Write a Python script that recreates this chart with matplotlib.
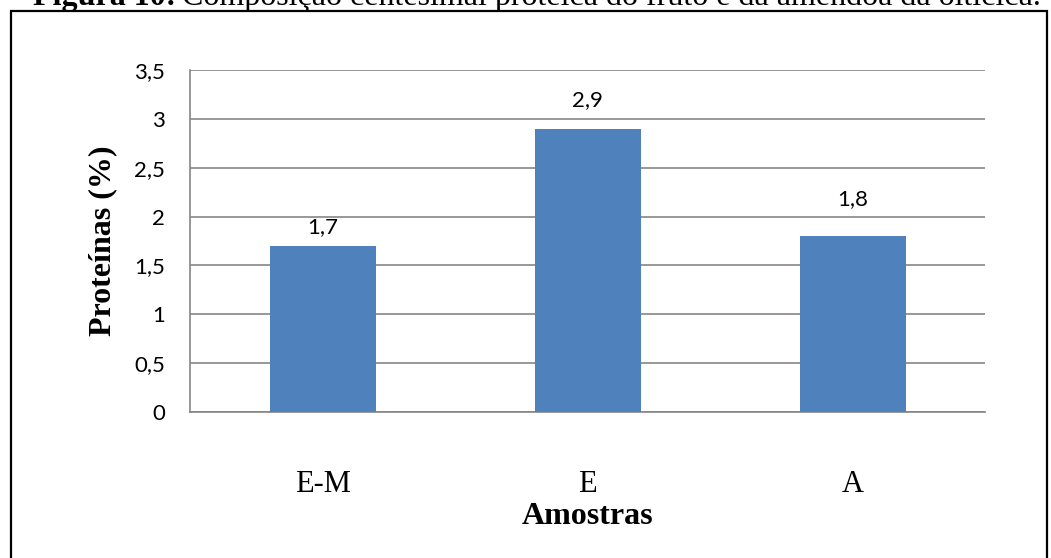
import matplotlib.pyplot as plt
from matplotlib.patches import Rectangle

# amostras e teor de proteínas (%)
amostras = ["E-M", "E", "A"]
proteinas = [1.7, 2.9, 1.8]
yticks = [0, 0.5, 1, 1.5, 2, 2.5, 3, 3.5]

# distância (pt) entre o topo da barra e o rótulo de valor
label_gap = [9.5, 16.5, 22.5]

bar_color = "#4F81BD"
grid_color = "#868686"

fig = plt.figure(figsize=(10.51, 5.58), dpi=100)
W, H = 1051, 558

# eixo em pixels: x 190..985, y 70..412
ax = fig.add_axes([190 / W, 1 - 412 / H, 795 / W, 342 / H])

x = range(len(amostras))
ax.bar(x, proteinas, width=0.4, color=bar_color, zorder=3)
ax.set_xlim(-0.5, len(amostras) - 0.5)
ax.set_ylim(0, 3.5)
ax.set_yticks(yticks)
ax.set_yticklabels([f"{v:g}".replace(".", ",") for v in yticks],
                   fontsize=16, family="Lato", color="#000000")
ax.yaxis.grid(True, color=grid_color, linewidth=1.2, zorder=0)
ax.tick_params(axis="y", length=0, pad=18)
ax.set_xticks(list(x))
ax.set_xticklabels(amostras, fontsize=22, family="Liberation Serif")
ax.tick_params(axis="x", length=0, pad=42)

for s in ["top", "right"]:
    ax.spines[s].set_visible(False)
ax.spines["left"].set_color(grid_color)
ax.spines["bottom"].set_color(grid_color)
ax.spines["left"].set_linewidth(1.2)
ax.spines["bottom"].set_linewidth(1.2)

for xi, v, gap in zip(x, proteinas, label_gap):
    ax.annotate(f"{v:g}".replace(".", ","), (xi, v), xytext=(0, gap),
                textcoords="offset points", ha="center", va="baseline",
                fontsize=16, family="Lato")

ax.set_xlabel("Amostras", fontsize=23, family="Liberation Serif",
              fontweight="bold", labelpad=2)
ax.set_ylabel("Proteínas (%)", fontsize=23, family="Liberation Serif",
              fontweight="bold", labelpad=12)

# moldura da figura (continua abaixo da imagem)
fig.patches.append(Rectangle((11 / W, -0.2), (1047 - 11) / W, 1.2 - 11 / H,
                             transform=fig.transFigure, fill=False,
                             edgecolor="black", linewidth=1.6))

# legenda da figura, cortada no topo
renderer = fig.canvas.get_renderer()
t1 = fig.text(33 / W, 1 - 5 / H, "Figura 10:", fontsize=23,
              family="Liberation Serif", fontweight="bold",
              va="baseline", ha="left")
x_end = t1.get_window_extent(renderer).x1
fig.text((x_end + 6) / W, 1 - 5 / H,
         "Composição centesimal proteica do fruto e da amêndoa da oiticica.",
         fontsize=23, family="Liberation Serif", va="baseline", ha="left")

fig.savefig("out.png", dpi=100)
